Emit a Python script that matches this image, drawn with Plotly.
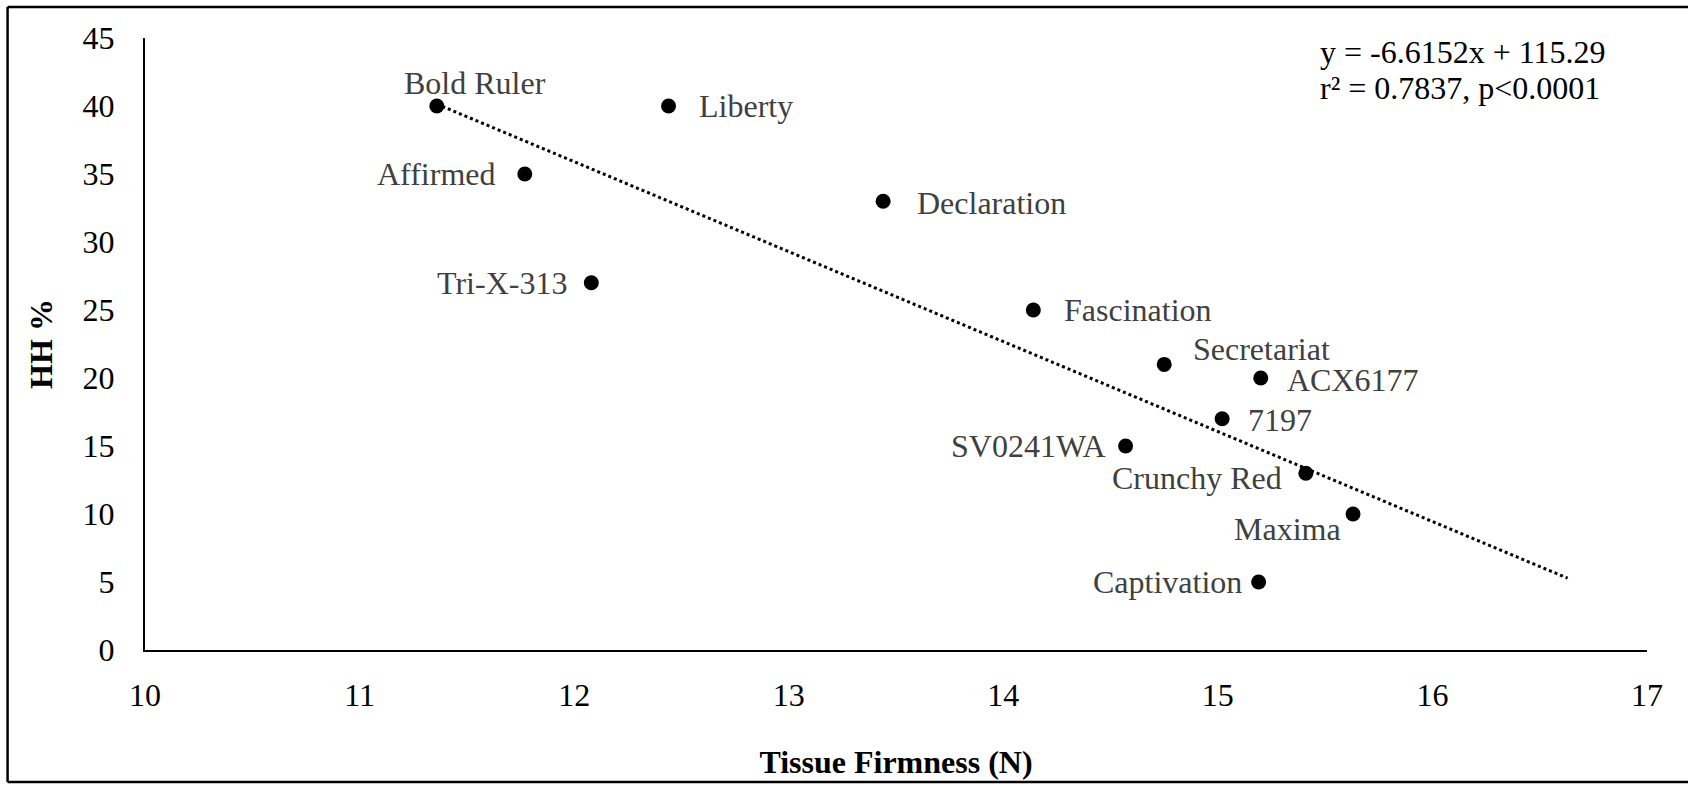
import plotly.graph_objects as go

# ---- data ----
cultivars = ["Bold Ruler", "Liberty", "Affirmed", "Declaration", "Tri-X-313",
             "Fascination", "Secretariat", "ACX6177", "7197", "SV0241WA",
             "Crunchy Red", "Maxima", "Captivation"]
firmness = [11.36, 12.44, 11.77, 13.44, 12.08, 14.14, 14.75, 15.20, 15.02,
            14.57, 15.41, 15.63, 15.19]
hh_pct = [40, 40, 35, 33, 27, 25, 21, 20, 17, 15, 13, 10, 5]

slope = -6.6152
intercept = 115.29
forecast_forward = 1.0

eq_lines = ["y = -6.6152x + 115.29", "r² = 0.7837, p<0.0001"]

x_ticks = [10, 11, 12, 13, 14, 15, 16, 17]
y_ticks = [0, 5, 10, 15, 20, 25, 30, 35, 40, 45]

# ---- label placement (style only) ----
label_anchor = ["center", "left", "right", "left", "right", "left", "left",
                "left", "left", "right", "right", "right", "right"]
label_dx = [38, 28, -28, 32, -22, 29, 27, 24, 24, -18, -22, -10, -15]
label_dy = [23, 0, 0, -2, 0, 0, 15, -2, -1, 0, -5, -15, 0]

FONT = "Liberation Serif, Times New Roman, serif"
FS = 32

x0 = min(firmness)
x1 = max(firmness) + forecast_forward
trend_x = [x0, x1]
trend_y = [slope * v + intercept for v in trend_x]

fig = go.Figure()
fig.add_trace(go.Scatter(x=trend_x, y=trend_y, mode="lines",
                         line=dict(color="black", width=3, dash="dot"),
                         hoverinfo="skip", showlegend=False))
fig.add_trace(go.Scatter(x=firmness, y=hh_pct, mode="markers",
                         marker=dict(color="black", size=15),
                         text=cultivars, showlegend=False))

for name, xv, yv, anc, dx, dy in zip(cultivars, firmness, hh_pct,
                                     label_anchor, label_dx, label_dy):
    fig.add_annotation(x=xv, y=yv, text=name, showarrow=False,
                       xanchor=anc, yanchor="middle", xshift=dx, yshift=dy,
                       font=dict(family=FONT, size=FS, color="#404040"))

for line, ypos in zip(eq_lines, [0.977, 0.918]):
    fig.add_annotation(xref="paper", yref="paper", x=0.781, y=ypos,
                       xanchor="left", yanchor="middle", text=line,
                       showarrow=False,
                       font=dict(family=FONT, size=FS, color="black"))

# outer border (left, top, bottom)
border = dict(color="black", width=2.5)
fig.add_shape(type="line", xref="paper", yref="paper",
              x0=-0.0915, x1=-0.0915, y0=-0.2155, y1=1.0505, line=border)
fig.add_shape(type="line", xref="paper", yref="paper",
              x0=-0.0915, x1=1.05, y0=1.0505, y1=1.0505, line=border)
fig.add_shape(type="line", xref="paper", yref="paper",
              x0=-0.0915, x1=1.05, y0=-0.2155, y1=-0.2155, line=border)

fig.update_layout(
    width=1688, height=786,
    margin=dict(l=145, r=41, t=38, b=134),
    paper_bgcolor="white", plot_bgcolor="white",
    font=dict(family=FONT, size=FS, color="black"),
    xaxis=dict(range=[10, 17], tickvals=x_ticks, showgrid=False,
               zeroline=False, showline=True, linecolor="black", linewidth=2,
               ticks="", ticklabelstandoff=16,
               tickfont=dict(family=FONT, size=FS, color="black"),
               title=dict(text="<b>Tissue Firmness (N)</b>", standoff=38,
                          font=dict(family=FONT, size=FS, color="black"))),
    yaxis=dict(range=[0, 45], tickvals=y_ticks, showgrid=False,
               zeroline=False, showline=True, linecolor="black", linewidth=2,
               ticks="", ticklabelstandoff=22,
               tickfont=dict(family=FONT, size=FS, color="black"),
               title=dict(text="<b>HH %</b>", standoff=20,
                          font=dict(family=FONT, size=FS, color="black"))),
)

fig.write_html("out.html")
